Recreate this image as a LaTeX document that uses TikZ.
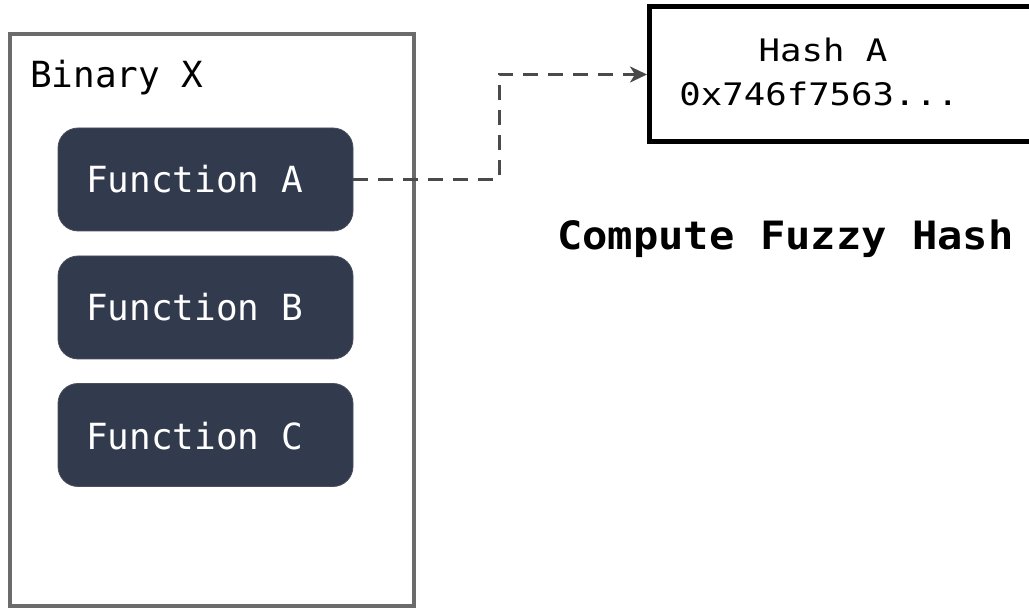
\documentclass[tikz,border=0pt]{standalone}
\usepackage{fontspec}
\setmonofont{DejaVu Sans Mono}
\newfontfamily\hashfont[FakeStretch=1.15]{DejaVu Sans Mono}
\newfontfamily\titlefont[FakeStretch=1.08]{DejaVu Sans Mono Bold}
\usetikzlibrary{arrows.meta}
\definecolor{fnfill}{HTML}{323A4E}
\definecolor{framegray}{HTML}{6B6B6B}
\definecolor{conngray}{HTML}{4A4A4A}
\tikzset{
  binframe/.style={draw=framegray, line width=3.5pt},
  fnbox/.style={fill=fnfill, draw=fnfill!70!gray, line width=0.8pt, rounded corners=20pt,
    minimum width=295pt, minimum height=103pt, inner sep=0pt},
  fnlabel/.style={anchor=base west, text=white, font=\ttfamily\fontsize{36}{40}\selectfont, inner sep=0pt},
  hashbox/.style={draw=black, line width=5pt, minimum width=420pt, minimum height=135pt, inner sep=0pt},
  hashlabel/.style={anchor=base, inner sep=0pt, font=\hashfont\fontsize{31}{36}\selectfont},
  dashconn/.style={draw=conngray, line width=3.5pt, dash pattern=on 15pt off 10pt,
    -{Stealth[length=17pt, width=16pt, inset=5pt]}},
}
\begin{document}
\begin{tikzpicture}[x=1pt, y=-1pt]
  \useasboundingbox (0,0) rectangle (1029,609);
  \clip (0,0) rectangle (1029,609);
  % outer frame of the binary
  \draw[binframe] (10,34) rectangle (414,606);
  \node[anchor=base west, inner sep=0pt, font=\ttfamily\fontsize{36}{40}\selectfont] (binlabel) at (30,88) {Binary X};
  % function blocks
  \node[fnbox] (fa) at (205.5,179.5) {};
  \node[fnbox] (fb) at (205.5,307.5) {};
  \node[fnbox] (fc) at (205.5,435) {};
  \node[fnlabel] (fal) at (86,193) {Function A};
  \node[fnlabel] (fbl) at (86,321) {Function B};
  \node[fnlabel] (fcl) at (86,450) {Function C};
  % hash result
  \node[hashbox, anchor=west] (hash) at (647,74.5) {};
  \node[hashlabel] (hashname) at (823,62) {Hash A};
  \node[hashlabel] (hashval) at (819,106) {0x746f7563...};
  % step caption
  \node[anchor=base west, inner sep=0pt, font=\titlefont\fontsize{39}{44}\selectfont] (caption) at (557,250) {Compute Fuzzy Hash};
  % connector from function A to its hash
  \draw[dashconn] (fa.east) -- ++(146,0) |- (hash.west);
\end{tikzpicture}
\end{document}
